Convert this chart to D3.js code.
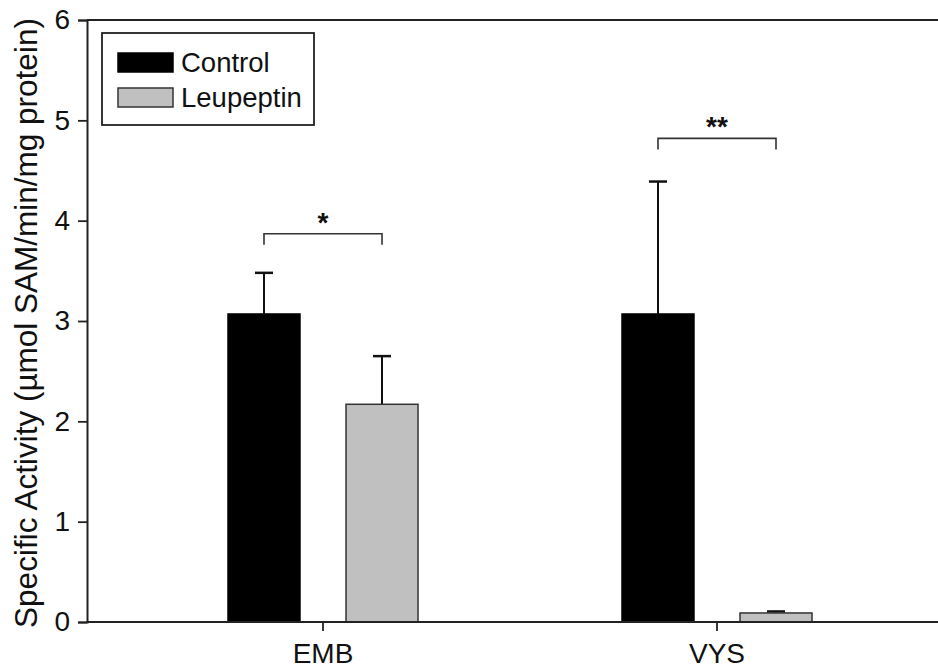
<!DOCTYPE html>
<html>
<head>
<meta charset="utf-8">
<script src="https://cdn.jsdelivr.net/npm/d3@7"></script>
<style>
  html, body { margin: 0; padding: 0; background: #fff; }
  svg { display: block; }
  text { font-family: "Liberation Sans", Arial, sans-serif; fill: #111; }
</style>
</head>
<body>
<svg id="chart" width="938" height="671"></svg>
<script>
// ---- Data ----
const categories = ["EMB", "VYS"];
const seriesNames = ["Control", "Leupeptin"];
const controlValues = [3.07, 3.07];
const controlErrors = [0.41, 1.32];
const leupeptinValues = [2.17, 0.09];
const leupeptinErrors = [0.48, 0.015];
const sigLevels = [3.87, 4.82];
const sigLabels = ["*", "**"];
const yTicks = [0, 1, 2, 3, 4, 5, 6];
const yLabel = "Specific Activity (\u00B5mol SAM/min/mg protein)";

const seriesValues = { Control: controlValues, Leupeptin: leupeptinValues };
const seriesErrors = { Control: controlErrors, Leupeptin: leupeptinErrors };
const seriesFill = { Control: "#000000", Leupeptin: "#c0c0c0" };
const seriesStroke = { Control: "#000000", Leupeptin: "#333333" };

// ---- Layout ----
const mLeft = 87, mTop = 20, mBottom = 622, mRight = 938;

const svg = d3.select("#chart");

const y = d3.scaleLinear().domain([0, 6]).range([mBottom, mTop]);
const x0 = d3.scaleBand().domain(categories).range([126, 914]);
const x1 = d3.scaleBand().domain(seriesNames).range([-95, 95]).paddingInner(0.39);
const center = c => x0(c) + x0.bandwidth() / 2;

// top frame line
svg.append("line")
  .attr("x1", mLeft).attr("x2", mRight).attr("y1", y(6)).attr("y2", y(6))
  .attr("stroke", "#222").attr("stroke-width", 2);

// bars
const rows = [];
categories.forEach((c, i) => {
  seriesNames.forEach(s => {
    rows.push({ cat: c, series: s, value: seriesValues[s][i], err: seriesErrors[s][i] });
  });
});

// error bars (upper only)
const eg = svg.append("g");
rows.forEach(d => {
  const cx = center(d.cat) + x1(d.series) + x1.bandwidth() / 2;
  eg.append("line")
    .attr("x1", cx).attr("x2", cx)
    .attr("y1", y(d.value)).attr("y2", y(d.value + d.err))
    .attr("stroke", "#111").attr("stroke-width", 2);
  eg.append("line")
    .attr("x1", cx - 9).attr("x2", cx + 9)
    .attr("y1", y(d.value + d.err)).attr("y2", y(d.value + d.err))
    .attr("stroke", "#111").attr("stroke-width", 2.5);
});

svg.append("g").selectAll("rect").data(rows).join("rect")
  .attr("x", d => center(d.cat) + x1(d.series))
  .attr("width", x1.bandwidth())
  .attr("y", d => y(d.value))
  .attr("height", d => y(0) - y(d.value))
  .attr("fill", d => seriesFill[d.series])
  .attr("stroke", d => seriesStroke[d.series])
  .attr("stroke-width", 1.5);

// significance brackets
const sg = svg.append("g");
categories.forEach((c, i) => {
  const xa = center(c) + x1("Control") + x1.bandwidth() / 2;
  const xb = center(c) + x1("Leupeptin") + x1.bandwidth() / 2;
  const yl = y(sigLevels[i]);
  const legDrop = y(sigLevels[i] - 0.11) - yl;
  sg.append("path")
    .attr("d", `M${xa},${yl + legDrop}V${yl}H${xb}V${yl + legDrop}`)
    .attr("fill", "none").attr("stroke", "#333").attr("stroke-width", 1.6);
  sg.append("text")
    .attr("x", (xa + xb) / 2).attr("y", yl - 2)
    .attr("text-anchor", "middle")
    .style("font-size", "28px")
    .style("font-weight", "bold")
    .text(sigLabels[i]);
});

// y axis
const yAxis = d3.axisLeft(y).tickValues(yTicks).tickFormat(d3.format("d"))
  .tickSize(9).tickPadding(8);
const yg = svg.append("g").attr("transform", `translate(${mLeft},0)`).call(yAxis);
yg.select(".domain").attr("stroke", "#222").attr("stroke-width", 2);
yg.selectAll(".tick line").attr("stroke", "#222").attr("stroke-width", 1.8);
yg.selectAll(".tick text").style("font-size", "28px").attr("fill", "#111")
  .style("font-family", "'Liberation Sans', Arial, sans-serif");

// x axis
const xAxis = d3.axisBottom(x0).tickSize(9).tickPadding(12).tickSizeOuter(0);
const xg = svg.append("g").attr("transform", `translate(0,${mBottom})`).call(xAxis);
xg.select(".domain").remove();
xg.append("line").attr("x1", mLeft).attr("x2", mRight).attr("y1", 0).attr("y2", 0)
  .attr("stroke", "#222").attr("stroke-width", 2);
xg.selectAll(".tick line").attr("stroke", "#222").attr("stroke-width", 1.8);
xg.selectAll(".tick text").style("font-size", "28px").attr("fill", "#111")
  .style("font-family", "'Liberation Sans', Arial, sans-serif");

// y label
svg.append("text")
  .attr("transform", `translate(37,${(mTop + mBottom) / 2 + 2}) rotate(-90)`)
  .attr("text-anchor", "middle")
  .style("font-size", "31.5px")
  .text(yLabel);

// legend
const lg = svg.append("g").attr("transform", "translate(102,33)");
lg.append("rect").attr("width", 212).attr("height", 92)
  .attr("fill", "#fff").attr("stroke", "#222").attr("stroke-width", 1.8);
seriesNames.forEach((s, i) => {
  const row = lg.append("g").attr("transform", `translate(16,${20 + i * 35})`);
  row.append("rect").attr("width", 55).attr("height", 19)
    .attr("fill", seriesFill[s]).attr("stroke", seriesStroke[s]).attr("stroke-width", 1.5);
  row.append("text").attr("x", 63).attr("y", 19)
    .style("font-size", "27.5px").text(s);
});
</script>
</body>
</html>
